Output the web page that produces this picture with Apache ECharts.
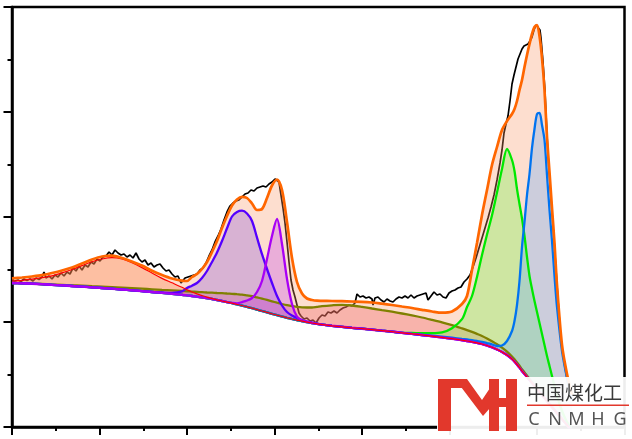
<!DOCTYPE html>
<html><head><meta charset="utf-8">
<script src="https://cdn.jsdelivr.net/npm/echarts@6/dist/echarts.min.js"></script>
<style>html,body{margin:0;padding:0;background:#fff}#c{width:632px;height:439px}</style>
</head><body><div id="c"></div>
<script>
// x grid (arbitrary energy units), shared by background and fitted components
const energy = [0,10,20,30,40,50,60,70,80,90,100,110,120,130,140,150,160,170,
 175,180,185,190,195,200,205,210,215,220,225,230,235,240,245,250,255,260,265,270,275,280,285,290,295,300,305,
 310,320,330,340,350,360,370,380,390,400,410,420,430,440,450,
 455,460,465,470,475,480,485,490,495,500,
 502.5,505,507.5,510,512.5,515,517.5,520,522.5,525,527.5,530,532.5,535,537.5,540,542.5,545,
 550,555,560];
// background (baseline) intensity
const background = [144.0,143.7,143.3,142.8,142.2,141.6,141.0,140.4,139.7,139.0,138.3,137.5,136.7,135.9,135.0,134.1,133.2,132.2,
 131.6,131.0,130.3,129.6,128.8,128.0,127.0,126.0,124.9,123.8,122.6,121.4,120.1,118.8,117.4,116.0,114.6,113.2,111.8,110.5,109.2,108.0,106.9,105.8,104.9,104.0,103.2,
 102.4,101.2,100.2,99.2,98.3,97.3,96.3,95.3,94.2,93.1,92.0,90.8,89.6,88.3,86.8,
 86.0,85.1,84.1,83.0,81.5,79.7,77.5,75.0,72.0,68.0,
 65.4,62.5,59.4,56.0,53.1,50.0,47,44,41,38,35,32,29,26,23,20,17,14,
 8,2,-4];
// cumulative fit (height above background)
const envelopeFit = [4.7,5.8,7.2,9.0,11.8,14.9,18.5,23.1,27.8,31.5,33.0,31.5,28.8,25.6,21.2,17.9,15.3,14.1,
 14.4,19.0,22.7,28.4,36.2,47.0,59.0,73.0,86.1,97.7,104.9,108.8,108.9,104.7,99.6,102.0,114.4,128.3,135.7,126.5,95.8,61.0,38.1,27.7,23.6,23.0,23.1,
 23.8,24.8,25.6,26.3,26.9,27.2,27.0,26.7,26.3,25.9,25.2,24.7,24.7,27.2,36.2,
 45,71.9,99.9,129,155.5,182.3,202.5,222,234,245,
 252.6,263.5,277.6,291,306.9,322,336,349,359,364,356,337,308,264,232,199,167,128,
 74,51,36];
// component peaks (height above background)
const peakRed = [2.0,3.0,4.5,6.5,9.0,12.5,16.5,21.0,25.5,29.0,31.0,30.5,27.5,23.5,19.0,14.5,11.0,7.5,
 5.5,4.0,2.8,1.8,1.0,0.5,0.2,0,0,0,0,0,0,0,0,0,0,0,0,0,0,0,0,0,0,0,0,
 0,0,0,0,0,0,0,0,0,0,0,0,0,0,0,
 0,0,0,0,0,0,0,0,0,0,
 0,0,0,0,0,0,0,0,0,0,0,0,0,0,0,0,0,0,
 0,0,0];
const peakOlive = [0,0,0,0.2,0.3,0.5,0.7,0.9,1.1,1.3,1.5,1.8,2.1,2.4,2.7,3.0,3.4,3.8,
 4.1,4.4,4.8,5.2,5.7,6.3,7.0,7.8,8.6,9.4,10.2,11.0,11.5,12.0,12.2,12.4,12.5,12.5,12.5,12.5,12.6,12.8,13.2,13.8,14.6,15.5,17.0,
 18.5,20.5,22.0,22.3,21.8,21.2,20.6,20.0,19.3,18.5,17.5,16.3,15.0,13.5,11.8,
 10.9,10.0,9.0,8.0,7.0,6.0,5.2,4.4,3.4,2.5,
 2.3,2.1,1.9,1.7,1.5,1.3,1.1,0.9,0.7,0.5,0.3,0.2,0.1,0,0,0,0,0,
 0,0,0];
const peakViolet = [0,0,0,0,0,0,0,0,0,0,0,0,0,0,0,0.5,1.0,3.5,
 7.4,10.3,13.7,19.4,27.2,37.0,47.5,60.0,73.8,86.7,92.4,94.9,93.4,87.2,71.9,56.8,43.4,30.8,19.2,11.0,5.8,3.5,2.1,1.2,0.6,0.3,0.1,
 0,0,0,0,0,0,0,0,0,0,0,0,0,0,0,
 0,0,0,0,0,0,0,0,0,0,
 0,0,0,0,0,0,0,0,0,0,0,0,0,0,0,0,0,0,
 0,0,0];
const peakPurple = [0,0,0,0,0,0,0,0,0,0,0,0,0,0,0,0,0,0,
 0,0,0,0,0,0,0,0,0,0.3,1.0,3.5,6.4,10.2,17.6,30,53.4,77.8,96.2,72.5,38.8,15,3.4,0.7,0.2,0,0,
 0,0,0,0,0,0,0,0,0,0,0,0,0,0,0,
 0,0,0,0,0,0,0,0,0,0,
 0,0,0,0,0,0,0,0,0,0,0,0,0,0,0,0,0,0,
 0,0,0];
const peakGreen = [0,0,0,0,0,0,0,0,0,0,0,0,0,0,0,0,0,0,
 0,0,0,0,0,0,0,0,0,0,0,0,0,0,0,0,0,0,0,0,0,0,0,0,0,0,0,
 0,0,0,0,0,0,0,0,0,1.0,1.8,3.0,5.0,10.5,21,
 34,45.9,66,89,111,132,157,183,206,199,
 190.6,175.5,163.6,152.5,137.9,120,104,94,85,77,69,61,53,45,38,31,24,17,
 8,3,1];
const peakBlue = [0,0,0,0,0,0,0,0,0,0,0,0,0,0,0,0,0,0,
 0,0,0,0,0,0,0,0,0,0,0,0,0,0,0,0,0,0,0,0,0,0,0,0,0,0,0,
 0,0,0,0,0,0,0,0,0,0,0,0.5,0.8,1.0,1.3,
 1.5,1.7,1.9,2.1,2.4,3.0,3.5,6.5,14,28,
 40.6,59.5,86.6,124,151.9,182,206,235,257,275,279,270,258,226,194,166,134,106,
 68,47,31];
// measured spectrum
const rawX = [0,3,6,9,12,15,18,21,24,27,30,32,34,37,40,43,46,49,52,55,58,61,64,67,70,73,76,79,82,85,88,91,94,97,100,103,106,109,112,115,118,121,124,127,130,133,136,139,142,145,148,151,154,157,160,163,166,169,171,173,176,179,182,185,188,191,194,197,200,203,206,209,212,215,218,221,224,227,230,233,236,239,242,245,248,251,254,257,260,263,265,267,269,271,273,275,277,279,281,283,285,287,289,292,295,298,301,304,307,310,313,316,319,322,325,328,331,334,337,340,343,345,348,351,354,357,360,361,363,366,369,372,375,378,381,384,387,390,393,396,399,402,405,408,411,414,416,419,422,425,428,431,434,437,440,443,446,449,452,455,458,461,464,467,470,473,476,479,482,485,488,490,492,494,496,498,500,502,504,506,508,510,512,514,516,518,520,522,524,526,528,529,531,533,534.5,536,538,540,542,544,546,548,550,553,556,559];
const rawY = [145,146,147,145.5,148,146.5,148,146,149,147.5,150,155,149,151,148,152,150,154,151,155,153,159,156,161,157,162,160,165,163,168,166,170,171,175,172,177,174,172,173,170,172,169,174,168,165,167,162,164,160,162,163,159,156,157,153,150,151,144,142,149,150,151,152,153,157,159,164,171,177,185,191,198,207,215,221,224,226,227,230,233,234,237,236,239,240,241,240,243,245,248,249,245,232,219,204,185,165,147,137,130,122,114,111,108,109,106,107,104,109,112,111,115,114,116,114,117,119,120,122,121,124,133,130,131,129,130,128,122,129,130,127,125,128,126,125,128,130,129,131,129,132,129,131,132,133,134,127,131,135,132,133,130,129,134,136,137,139,140,145,148,152,160,169,179,189,199,209,220,232,247,264,277,294,303,311,326,343,352,360,368,373,378,381,382,383,386,390,397,402,404,397,389,365,335,302,272,242,215,187,157,127,99,79,59,42,27];
// axis setup
const xMin = 0, xMax = 612.5, xStep = 87.5;
const yMin = 0, yMax = 420, yStep = 105;

const S = 0.3;
const pairs = ys => energy.map((x, i) => [x, ys[i]]);
const absolute = h => energy.map((x, i) => [x, +(background[i] + h[i]).toFixed(2)]);

const fills = [
  { h: envelopeFit, color: 'rgba(250,150,100,0.31)' },
  { h: peakRed,     color: 'rgba(255,120,60,0.30)' },
  { h: peakOlive,   color: 'rgba(240,80,90,0.30)' },
  { h: peakViolet,  color: 'rgba(150,100,220,0.36)' },
  { h: peakPurple,  color: 'rgba(200,90,235,0.36)' },
  { h: peakGreen,   color: 'rgba(140,240,100,0.42)' },
  { h: peakBlue,    color: 'rgba(130,180,240,0.40)' }
];
const outlines = [
  { h: peakOlive,  color: '#808000', w: 2.3 },
  { h: peakGreen,  color: '#00E800', w: 2.3 },
  { h: peakBlue,   color: '#0073F0', w: 2.3 },
  { h: peakViolet, color: '#5500FF', w: 2.3 },
  { h: peakPurple, color: '#A800F5', w: 2.3 },
  { h: peakRed,    color: '#FF0000', w: 1.2 },
  { h: envelopeFit,color: '#FF6600', w: 2.7 }
];

const series = [];
series.push({ type: 'line', data: rawX.map((x, i) => [x, rawY[i]]), symbol: 'none', z: 1,
  lineStyle: { color: '#000', width: 1.7 }, silent: true });
fills.forEach((f, k) => {
  series.push({ type: 'line', stack: 'g' + k, stackStrategy: 'all', data: pairs(background), symbol: 'none',
    smooth: S, z: 2, lineStyle: { opacity: 0 }, silent: true });
  series.push({ type: 'line', stack: 'g' + k, stackStrategy: 'all', data: pairs(f.h), symbol: 'none',
    smooth: S, z: 2, lineStyle: { opacity: 0 }, areaStyle: { color: f.color, opacity: 1 }, silent: true });
});
series.push({ type: 'line', data: pairs(background), symbol: 'none', smooth: S, z: 3,
  lineStyle: { color: '#D000C8', width: 2.4 }, silent: true });
outlines.forEach(o => {
  series.push({ type: 'line', data: absolute(o.h), symbol: 'none', smooth: S, z: 3,
    lineStyle: { color: o.color, width: o.w }, silent: true });
});

const RED = '#E2382C';
const chart = echarts.init(document.getElementById('c'), null, { renderer: 'canvas' });
chart.setOption({
  animation: false,
  backgroundColor: '#fff',
  grid: { left: 12, right: 7.5, top: 7, bottom: 12, show: true, borderColor: '#000', borderWidth: 2.5,
    backgroundColor: 'transparent', outerBoundsMode: 'none' },
  xAxis: [
    { type: 'time', min: xMin, max: xMax, show: false, position: 'top' },
    { type: 'value', min: xMin, max: xMax, interval: xStep, position: 'bottom',
      axisLine: { show: true, lineStyle: { color: '#000', width: 2.5 } },
      axisTick: { show: true, length: 8, lineStyle: { color: '#000', width: 2 } },
      minorTick: { show: true, splitNumber: 2, length: 4, lineStyle: { color: '#000', width: 2 } },
      axisLabel: { show: false }, splitLine: { show: false }, minorSplitLine: { show: false } }
  ],
  yAxis: { type: 'value', min: yMin, max: yMax, interval: yStep,
    axisLine: { show: true, lineStyle: { color: '#000', width: 2.5 } },
    axisTick: { show: true, length: 8.5, lineStyle: { color: '#000', width: 2 } },
    minorTick: { show: true, splitNumber: 2, length: 4.5, lineStyle: { color: '#000', width: 2 } },
    axisLabel: { show: false }, splitLine: { show: false } },
  series: series,
  graphic: [
    { type: 'rect', z: 100, shape: { x: 437, y: 377, width: 195, height: 62 }, style: { fill: 'rgba(255,255,255,0.93)' } },
    { type: 'rect', z: 101, shape: { x: 438, y: 379, width: 13, height: 52 }, style: { fill: RED } },
    { type: 'rect', z: 101, shape: { x: 438, y: 379, width: 28, height: 9 }, style: { fill: RED } },
    { type: 'polygon', z: 101, shape: { points: [[455, 379], [467, 379], [482, 400], [490, 388], [490, 408], [483, 416]] }, style: { fill: RED } },
    { type: 'rect', z: 101, shape: { x: 489, y: 379, width: 10, height: 52 }, style: { fill: RED } },
    { type: 'rect', z: 101, shape: { x: 499, y: 398, width: 7, height: 9 }, style: { fill: RED } },
    { type: 'rect', z: 101, shape: { x: 506, y: 379, width: 11, height: 52 }, style: { fill: RED } },
    { type: 'text', z: 101, x: 527, y: 393, style: { text: '中国煤化工', font: '19px "Noto Sans CJK SC"', fill: '#3a3a3a', align: 'left', verticalAlign: 'middle' } },
    { type: 'rect', z: 101, shape: { x: 527, y: 404.5, width: 102, height: 1.6 }, style: { fill: RED } },
    { type: 'text', z: 101, x: 534, y: 420, style: { text: 'C', font: '18px "Noto Sans"', fill: '#555', align: 'center', verticalAlign: 'middle' } },
    { type: 'text', z: 101, x: 555, y: 420, style: { text: 'N', font: '18px "Noto Sans"', fill: '#555', align: 'center', verticalAlign: 'middle' } },
    { type: 'text', z: 101, x: 576.5, y: 420, style: { text: 'M', font: '18px "Noto Sans"', fill: '#555', align: 'center', verticalAlign: 'middle' } },
    { type: 'text', z: 101, x: 598, y: 420, style: { text: 'H', font: '18px "Noto Sans"', fill: '#555', align: 'center', verticalAlign: 'middle' } },
    { type: 'text', z: 101, x: 620, y: 420, style: { text: 'G', font: '18px "Noto Sans"', fill: '#555', align: 'center', verticalAlign: 'middle' } }
  ]
});
</script>
</body></html>
